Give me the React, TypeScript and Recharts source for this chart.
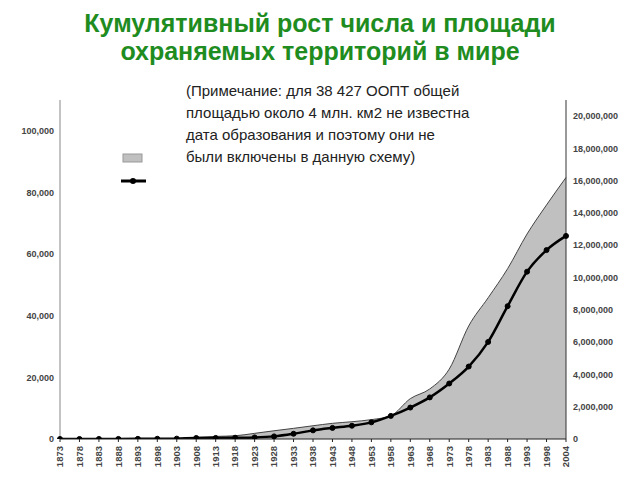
import {
	Area,
	ComposedChart,
	Line,
	XAxis,
	YAxis,
} from "recharts";

const YEARS = [
	"1873", "1878", "1883", "1888", "1893", "1898", "1903", "1908", "1913",
	"1918", "1923", "1928", "1933", "1938", "1943", "1948", "1953", "1958",
	"1963", "1968", "1973", "1978", "1983", "1988", "1993", "1998", "2004",
];

// cumulative number of sites (left axis)
const SITES = [
	0, 10, 20, 30, 50, 80, 120, 320, 340, 420, 520, 850, 1700, 2800, 3600,
	4300, 5400, 7500, 10200, 13500, 18000, 23500, 31500, 43100, 54300, 61300,
	65900,
];

// cumulative area, km2 (right axis)
const AREA = [
	0, 2000, 4000, 6000, 9000, 12000, 25000, 100000, 160000, 200000, 350000,
	510000, 660000, 820000, 970000, 1070000, 1200000, 1440000, 2500000,
	3100000, 4330000, 7000000, 8750000, 10550000, 12700000, 14500000, 16200000,
];

const LEFT_TICKS = [0, 20000, 40000, 60000, 80000, 100000];
const RIGHT_TICKS = [
	0, 2000000, 4000000, 6000000, 8000000, 10000000, 12000000, 14000000,
	16000000, 18000000, 20000000,
];

const TITLE = ["Кумулятивный рост числа и площади", "охраняемых территорий в мире"];
const NOTE = [
	"(Примечание: для 38 427 ООПТ общей",
	"площадью около 4 млн. км2 не известна",
	"дата образования и поэтому они не",
	"были включены в данную схему)",
];

const FONT = "'Liberation Sans', Arial, sans-serif";

const data = YEARS.map((year, i) => ({ year, sites: SITES[i], area: AREA[i] }));

const fmt = (v: number) => v.toLocaleString("en-US");

function YearTick({ x, y, payload }: any) {
	return (
		<text
			transform={`translate(${x},${y + 2}) rotate(-90)`}
			textAnchor="end"
			dy="0.35em"
			fontSize={9.5}
			fontWeight="bold"
			fill="#444"
			fontFamily={FONT}
		>
			{payload.value}
		</text>
	);
}

// legend has symbols only, no labels
function LegendBox() {
	return (
		<svg width={40} height={40} style={{ position: "absolute", left: 118, top: 148 }}>
			<rect x={5} y={6} width={19} height={8} fill="#c0c0c0" stroke="#999" strokeWidth={1} />
			<line x1={3} y1={33} x2={28} y2={33} stroke="#000" strokeWidth={3} />
			<circle cx={15} cy={33} r={3} fill="#000" />
		</svg>
	);
}

export default function App() {
	return (
		<div
			style={{
				position: "absolute",
				left: 0,
				top: 0,
				width: 640,
				height: 480,
				background: "#fff",
				fontFamily: FONT,
			}}
		>
			<div
				style={{
					position: "absolute",
					top: 9,
					left: 0,
					width: 640,
					textAlign: "center",
					color: "#1e8c1e",
					fontWeight: "bold",
					fontSize: 25,
					lineHeight: "28px",
				}}
			>
				{TITLE.map((t) => (
					<div key={t}>{t}</div>
				))}
			</div>
			<ComposedChart
				width={640}
				height={480}
				data={data}
				margin={{ top: 100, right: 0, bottom: 0, left: 8 }}
			>
				<XAxis
					dataKey="year"
					scale="point"
					interval={0}
					height={41}
					stroke="#222"
					tickSize={3}
					tick={<YearTick />}
					padding={{ left: 0, right: 0 }}
				/>
				<YAxis
					yAxisId="left"
					orientation="left"
					width={52}
					domain={[0, 110000]}
					ticks={LEFT_TICKS}
					tickFormatter={fmt}
					tickLine={false}
					tickSize={0}
					tickMargin={6}
					stroke="#888"
					tick={{ fontSize: 9, fontWeight: "bold", fill: "#444", fontFamily: FONT }}
					allowDataOverflow
				/>
				<YAxis
					yAxisId="right"
					orientation="right"
					width={74}
					domain={[0, 21000000]}
					ticks={RIGHT_TICKS}
					tickFormatter={fmt}
					tickLine={false}
					tickSize={0}
					tickMargin={7}
					stroke="#333"
					tick={{ fontSize: 9, fontWeight: "bold", fill: "#444", fontFamily: FONT, textAnchor: "start" }}
					allowDataOverflow
				/>
				<Area
					yAxisId="right"
					dataKey="area"
					type="monotone"
					fill="#c0c0c0"
					fillOpacity={1}
					stroke="#444"
					strokeWidth={1}
					isAnimationActive={false}
				/>
				<Line
					yAxisId="left"
					dataKey="sites"
					type="monotone"
					stroke="#000"
					strokeWidth={2.5}
					dot={{ r: 2.5, fill: "#000", stroke: "#000", strokeWidth: 1 }}
					isAnimationActive={false}
				/>
			</ComposedChart>
			<LegendBox />
			<div
				style={{
					position: "absolute",
					left: 186,
					top: 80,
					fontSize: 15,
					lineHeight: "22px",
					color: "#222",
					whiteSpace: "nowrap",
				}}
			>
				{NOTE.map((t) => (
					<div key={t}>{t}</div>
				))}
			</div>
		</div>
	);
}
